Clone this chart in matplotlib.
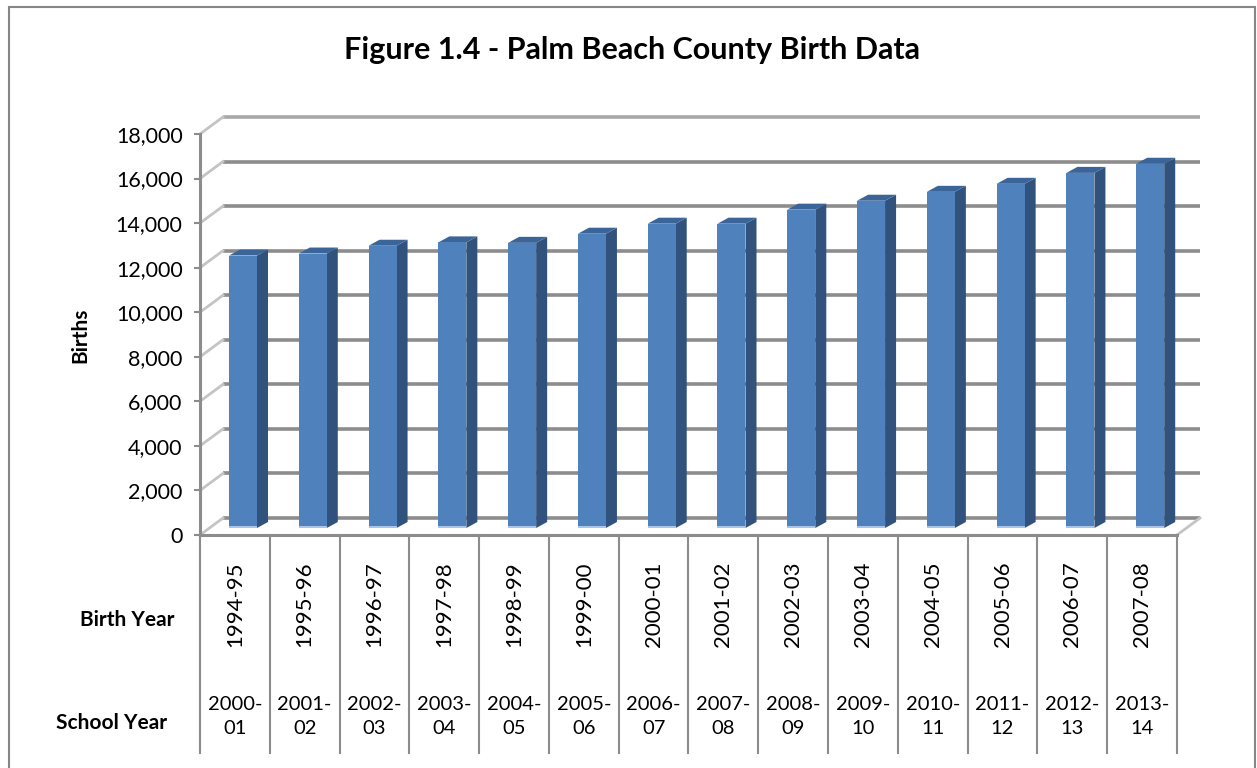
import matplotlib
matplotlib.use("Agg")
import matplotlib.pyplot as plt
from matplotlib.patches import Polygon, Rectangle
import numpy as np

plt.rcParams["font.family"] = ["Lato", "DejaVu Sans"]

# data
birth_years = ["1994-95", "1995-96", "1996-97", "1997-98", "1998-99", "1999-00", "2000-01",
               "2001-02", "2002-03", "2003-04", "2004-05", "2005-06", "2006-07", "2007-08"]
school_years = ["2000-\n01", "2001-\n02", "2002-\n03", "2003-\n04", "2004-\n05", "2005-\n06",
                "2006-\n07", "2007-\n08", "2008-\n09", "2009-\n10", "2010-\n11", "2011-\n12",
                "2012-\n13", "2013-\n14"]
births = [12230, 12320, 12670, 12820, 12800, 13210, 13660,
          13660, 14290, 14690, 15090, 15450, 15940, 16350]
y_ticks = list(range(0, 18001, 2000))

W, H = 1257, 768
fig = plt.figure(figsize=(W / 100, H / 100), dpi=100)


def fx(px):
    return px / W


def fy(py):
    return 1 - py / H


# front plane of the fake 3d chart
ax = fig.add_axes([fx(200), fy(535), fx(1177) - fx(200), fy(134) - fy(535)])
n = len(births)
ax.set_xlim(-0.5, n - 0.5)
ax.set_ylim(0, 18000)

cat_px = (1177 - 200) / n      # pixels per category
val_px = 18000 / 401           # value units per pixel
wall_dx, wall_dy = 23 / cat_px, 17 * val_px

grid_dark = "#8c8c8c"
grid_light = "#c4c4c4"

# back wall gridlines + side wall diagonals
for t in y_ticks:
    c = "#a8a8a8" if t == y_ticks[-1] else grid_dark
    ax.plot([-0.5 + wall_dx, n - 0.5 + wall_dx], [t + wall_dy] * 2, color=c, lw=2.6,
            zorder=1, clip_on=False, solid_capstyle="butt")
    ax.plot([-0.5, -0.5 + wall_dx], [t, t + wall_dy], color=grid_light, lw=2,
            zorder=1, clip_on=False)
ax.plot([n - 0.5, n - 0.5 + wall_dx], [0, wall_dy], color=grid_light, lw=2, zorder=1, clip_on=False)

# bars
bar_off = 29 / cat_px
bar_w = 28 / cat_px
side_dx = 11 / cat_px
side_dy = 6 * val_px
base = 7 * val_px
front_c, side_c, top_c = "#4F81BD", "#30527C", "#3B6598"

x0 = np.arange(n) - 0.5 + bar_off
ax.bar(x0, births, width=bar_w, bottom=base, align="edge", color=front_c, zorder=4)
for xl, v in zip(x0, births):
    xr = xl + bar_w
    y1 = base + v
    ax.add_patch(Polygon([(xr, base), (xr + side_dx, base + side_dy), (xr + side_dx, y1 + side_dy), (xr, y1)],
                         closed=True, fc=side_c, ec="none", zorder=3, clip_on=False))
    ax.add_patch(Polygon([(xl, y1), (xr, y1), (xr + side_dx, y1 + side_dy), (xl + side_dx, y1 + side_dy)],
                         closed=True, fc=top_c, ec="none", zorder=3, clip_on=False))
    ax.add_patch(Rectangle((xl, base), bar_w, 2.5 * val_px, fc="#A9C4E6", ec="none", zorder=5))

# axes styling
for s in ["top", "right"]:
    ax.spines[s].set_visible(False)
for s in ["left", "bottom"]:
    ax.spines[s].set_color(grid_dark)
    ax.spines[s].set_linewidth(2.2)
    ax.spines[s].set_zorder(6)
ax.set_yticks(y_ticks)
ax.set_yticklabels([f"{t:,}" for t in y_ticks])
ax.tick_params(axis="y", length=4.5, width=1.5, color=grid_dark, labelsize=15.5, pad=8)
ax.set_xticks([])
ax.patch.set_alpha(0)

# category table under the floor
table_bottom = (535 - 753) * val_px
for b in np.arange(n + 1) - 0.5:
    ax.plot([b, b], [0, table_bottom], color=grid_dark, lw=1.5, clip_on=False, zorder=2)
for i in range(n):
    ax.text(i, (535 - 604) * val_px, birth_years[i], rotation=90, ha="center", va="center",
            fontsize=16, clip_on=False)
    ax.text(i, (535 - 716) * val_px, school_years[i], ha="center", va="center",
            fontsize=14.5, linespacing=1.5, clip_on=False)

# labels
fig.text(fx(632), fy(50), "Figure 1.4 - Palm Beach County Birth Data", ha="center", va="center",
         fontsize=22, fontweight="bold")
fig.text(fx(80), fy(335), "Births", rotation=90, ha="center", va="center", fontsize=15, fontweight="bold")
fig.text(fx(175), fy(620), "Birth Year", ha="right", va="center", fontsize=15, fontweight="bold")
fig.text(fx(167), fy(723), "School Year", ha="right", va="center", fontsize=15, fontweight="bold")

# outer chart frame
fig.add_artist(Rectangle((fx(9), fy(780)), fx(1255) - fx(9), fy(7) - fy(780),
                         transform=fig.transFigure, fill=False, ec="#868686", lw=1.5))

fig.savefig("out.png", dpi=100)
